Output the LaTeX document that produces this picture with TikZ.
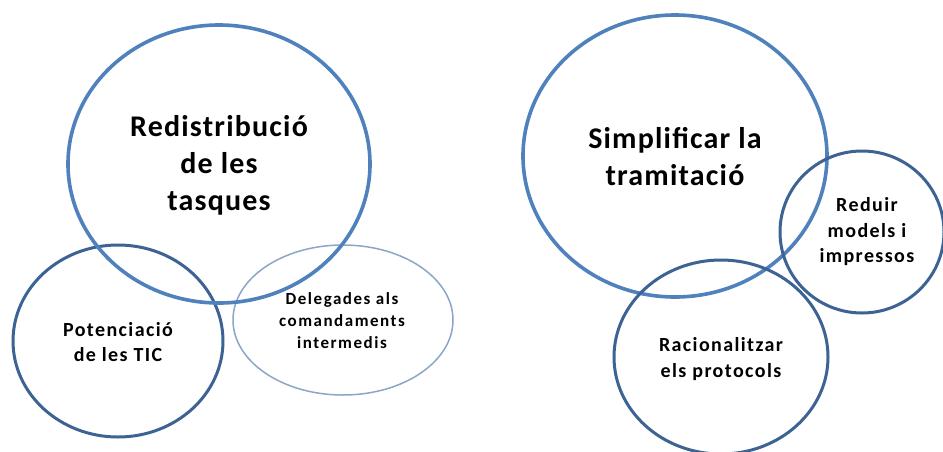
\documentclass[tikz,border=0pt]{standalone}
\usepackage{fontspec}
\setmainfont{Carlito}
\newfontfamily\lsbig[LetterSpace=4]{Carlito}
\newfontfamily\lsmid[LetterSpace=7]{Carlito}
\newfontfamily\lssm[LetterSpace=9]{Carlito}
\definecolor{bigblue}{HTML}{4F81BD}
\definecolor{darkblue}{HTML}{3C6394}
\definecolor{lightblue}{HTML}{8BA6C6}
\tikzset{
  bigc/.style={draw=bigblue, line width=3.6pt},
  smallc/.style={draw=darkblue, line width=3pt},
  thinc/.style={draw=lightblue, line width=1.5pt},
  bigtxt/.style={font=\lsbig\bfseries\fontsize{30}{37}\selectfont, align=center},
  midtxt/.style={font=\lsmid\bfseries\fontsize{20}{25.5}\selectfont, align=center},
  smtxt/.style={font=\lssm\bfseries\fontsize{17}{22}\selectfont, align=center},
}
\begin{document}
\begin{tikzpicture}[x=1pt,y=-1pt]
\useasboundingbox (0,0) rectangle (943,451);
\fill[white] (0,0) rectangle (943,451);
\begin{scope}
\clip (0,0) rectangle (943,451);
% left group
\draw[smallc] (118,341) ellipse [x radius=105, y radius=96];
\draw[thinc] (343,320) ellipse [x radius=110, y radius=75];
\draw[bigc] (219,164) ellipse [x radius=151, y radius=139];
% right group
\draw[bigc] (675,156) ellipse [x radius=152, y radius=141];
\draw[smallc] (862,232) ellipse [x radius=82, y radius=81];
\draw[smallc] (721,357) ellipse [x radius=107, y radius=97];
\end{scope}
\node[bigtxt] (t1) at (219,165) {Redistribució\\de les\\tasques};
\node[midtxt] (t2) at (118,342) {Potenciació\\de les TIC};
\node[smtxt] (t3) at (342,321) {Delegades als\\comandaments\\intermedis};
\node[bigtxt] (t4) at (675,157) {Simplificar la\\tramitació};
\node[midtxt] (t5) at (867,232) {Reduir\\models i\\impressos};
\node[midtxt] (t6) at (721,359) {Racionalitzar\\els protocols};
\end{tikzpicture}
\end{document}
